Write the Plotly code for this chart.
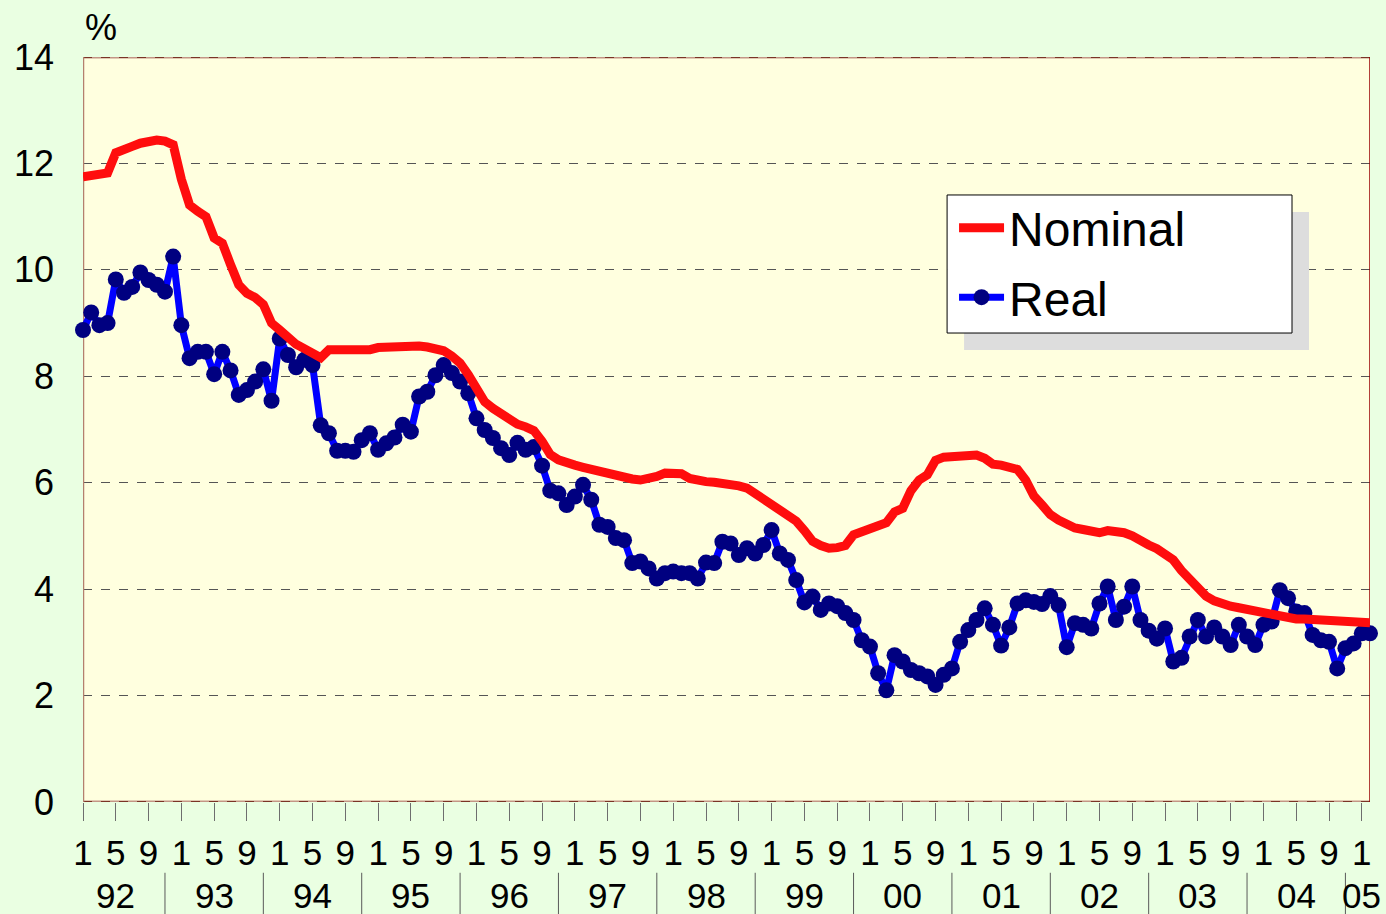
import plotly.graph_objects as go

# Monthly series, Jan 1992 .. Feb 2005 (158 months)
months = list(range(158))

nominal = [
    11.75, 11.76, 11.78, 11.82, 12.20, 12.28, 12.32, 12.38, 12.42, 12.44, 12.42, 12.35,
    11.70, 11.22, 11.10, 11.00, 10.60, 10.50, 10.10, 9.72, 9.56, 9.48, 9.35, 9.00,
    8.87, 8.72, 8.60, 8.52, 8.44, 8.35, 8.50, 8.50, 8.49, 8.48, 8.47, 8.50,
    8.54, 8.55, 8.57, 8.58, 8.59, 8.57, 8.55, 8.53, 8.48, 8.38, 8.25, 8.03,
    7.75, 7.52, 7.40, 7.30, 7.17, 7.10, 7.05, 6.98, 6.78, 6.53, 6.43, 6.36,
    6.33, 6.29, 6.25, 6.20, 6.15, 6.12, 6.09, 6.07, 6.05, 6.07, 6.12, 6.18,
    6.18, 6.17, 6.08, 6.04, 6.02, 6.01, 6.00, 5.98, 5.94, 5.90, 5.80, 5.70,
    5.57, 5.46, 5.38, 5.28, 5.10, 4.90, 4.82, 4.77, 4.78, 4.82, 5.02, 5.07,
    5.11, 5.17, 5.25, 5.45, 5.52, 5.85, 6.05, 6.15, 6.42, 6.48, 6.50, 6.51,
    6.52, 6.52, 6.46, 6.35, 6.33, 6.30, 6.25, 6.05, 5.75, 5.58, 5.40, 5.30,
    5.20, 5.15, 5.12, 5.09, 5.06, 5.10, 5.09, 5.06, 5.00, 4.90, 4.83, 4.76,
    4.65, 4.55, 4.35, 4.20, 4.05, 3.87, 3.78, 3.72, 3.68, 3.65, 3.62, 3.60,
    3.58, 3.53, 3.48, 3.45, 3.44, 3.44, 3.43, 3.43, 3.42, 3.42, 3.41, 3.40,
    3.38, 3.37,
]

real = [
    8.87, 9.20, 8.96, 9.00, 9.82, 9.57, 9.68, 9.95, 9.81, 9.72, 9.59, 10.25,
    8.96, 8.34, 8.46, 8.46, 8.04, 8.46, 8.11, 7.65, 7.74, 7.90, 8.13, 7.54,
    8.71, 8.40, 8.17, 8.31, 8.21, 7.08, 6.93, 6.60, 6.60, 6.58, 6.80, 6.93,
    6.62, 6.74, 6.85, 7.09, 6.96, 7.62, 7.71, 8.02, 8.21, 8.06, 7.90, 7.68,
    7.21, 6.99, 6.84, 6.65, 6.52, 6.75, 6.62, 6.67, 6.32, 5.85, 5.80, 5.58,
    5.74, 5.96, 5.68, 5.21, 5.17, 4.96, 4.92, 4.49, 4.52, 4.39, 4.20, 4.30,
    4.33, 4.30, 4.30, 4.20, 4.50, 4.49, 4.89, 4.86, 4.64, 4.77, 4.67, 4.83,
    5.11, 4.67, 4.55, 4.17, 3.75, 3.86, 3.61, 3.73, 3.68, 3.55, 3.42, 3.04,
    2.92, 2.42, 2.10, 2.76, 2.64, 2.48, 2.42, 2.36, 2.20, 2.39, 2.51, 3.01,
    3.23, 3.42, 3.64, 3.33, 2.94, 3.28, 3.73, 3.79, 3.76, 3.72, 3.87, 3.70,
    2.91, 3.36, 3.33, 3.26, 3.73, 4.05, 3.42, 3.67, 4.05, 3.42, 3.22, 3.07,
    3.26, 2.64, 2.71, 3.11, 3.42, 3.11, 3.28, 3.11, 2.95, 3.33, 3.11, 2.95,
    3.33, 3.39, 3.98, 3.83, 3.58, 3.55, 3.14, 3.04, 3.01, 2.51, 2.89, 2.98,
    3.17, 3.17,
]

# Month tick labels every four months, and year group labels
tick_positions = list(range(0, 157, 4))
tick_months = ["1", "5", "9"] * 13 + ["1"]
years = ["92", "93", "94", "95", "96", "97", "98", "99", "00", "01", "02", "03", "04", "05"]
year_positions = [4 + 12 * k for k in range(13)] + [156]
year_breaks = [10 + 12 * k for k in range(13)]

FONT = "Liberation Sans, Arial, sans-serif"
X_END = 157

fig = go.Figure()

fig.add_trace(go.Scatter(
    x=months, y=real, name="Real", mode="lines+markers", cliponaxis=False,
    legendgroup="real", legendrank=2,
    line=dict(color="#0000FF", width=7),
    marker=dict(color="#000080", size=16, line=dict(width=0)),
))
fig.add_trace(go.Scatter(
    x=months, y=nominal, name="Nominal", mode="lines", cliponaxis=False,
    legendgroup="nominal", legendrank=1,
    line=dict(color="#FF0D0D", width=9),
))

shapes = []
# frame: top and bottom edges (solid tan under dark dashes), right edge dark red
for yv in (0, 14):
    shapes.append(dict(type="line", xref="x", yref="y", x0=0, x1=X_END, y0=yv, y1=yv,
                       line=dict(color="#C39585", width=3), layer="below"))
    shapes.append(dict(type="line", xref="x", yref="y", x0=0, x1=X_END, y0=yv, y1=yv,
                       line=dict(color="#7A3426", width=2, dash="dash"), layer="between"))
shapes.append(dict(type="line", xref="x", yref="y", x0=X_END, x1=X_END, y0=0, y1=14,
                   line=dict(color="#990000", width=1.5), layer="between"))
shapes.append(dict(type="line", xref="x", yref="y", x0=0, x1=0, y0=0, y1=14,
                   line=dict(color="#B4806E", width=2.5), layer="between"))
# year separators below the month labels
for b in year_breaks:
    shapes.append(dict(type="line", xref="x", yref="paper", x0=b, x1=b, y0=-0.095, y1=-0.16,
                       line=dict(color="#5A5A5A", width=1)))
# legend panel: drop shadow, then white box with black border
shapes.append(dict(type="rect", xref="paper", yref="paper", x0=0.6846, x1=0.9526,
                   y0=0.6067, y1=0.7919, fillcolor="#DDDDDD", line=dict(width=0),
                   layer="above"))
shapes.append(dict(type="rect", xref="paper", yref="paper", x0=0.6714, x1=0.9394,
                   y0=0.6295, y1=0.8148, fillcolor="#FFFFFF",
                   line=dict(color="#000000", width=1), layer="above"))

annotations = [
    dict(text="%", xref="paper", yref="paper", x=0.0, y=1.04, xanchor="left",
         yanchor="middle", showarrow=False, font=dict(family=FONT, size=36, color="#000000")),
]
for yr, pos in zip(years, year_positions):
    annotations.append(dict(text=yr, xref="x", yref="paper", x=pos, y=0, yshift=-93,
                            xanchor="center", yanchor="middle", showarrow=False,
                            font=dict(family=FONT, size=35, color="#000000")))

fig.update_layout(
    width=1386, height=914,
    margin=dict(l=83, r=16, t=57, b=112),
    paper_bgcolor="#EAFFE2",
    plot_bgcolor="#FFFFDF",
    font=dict(family=FONT, color="#000000"),
    showlegend=True,
    legend=dict(
        x=0.6768, y=0.8214, xanchor="left", yanchor="top",
        bgcolor="rgba(0,0,0,0)", borderwidth=0,
        font=dict(family=FONT, size=48, color="#000000"),
        traceorder="grouped", tracegroupgap=4, itemwidth=45,
    ),
    shapes=shapes,
    annotations=annotations,
    xaxis=dict(
        range=[0, X_END], showgrid=False, zeroline=False, showline=False,
        tickmode="array", tickvals=tick_positions, ticktext=tick_months,
        ticks="outside", ticklen=18, tickcolor="#6E6E6E", tickwidth=1,
        tickfont=dict(family=FONT, size=35, color="#000000"),
        ticklabelstandoff=2,
    ),
    yaxis=dict(
        range=[0, 14], tickvals=[0, 2, 4, 6, 8, 10, 12, 14],
        showgrid=True, gridcolor="#555555", griddash="dash", gridwidth=1,
        zeroline=False, showline=False, ticks="",
        tickfont=dict(family=FONT, size=36, color="#000000"),
        ticklabelstandoff=28,
    ),
)

fig.write_html("out.html")
